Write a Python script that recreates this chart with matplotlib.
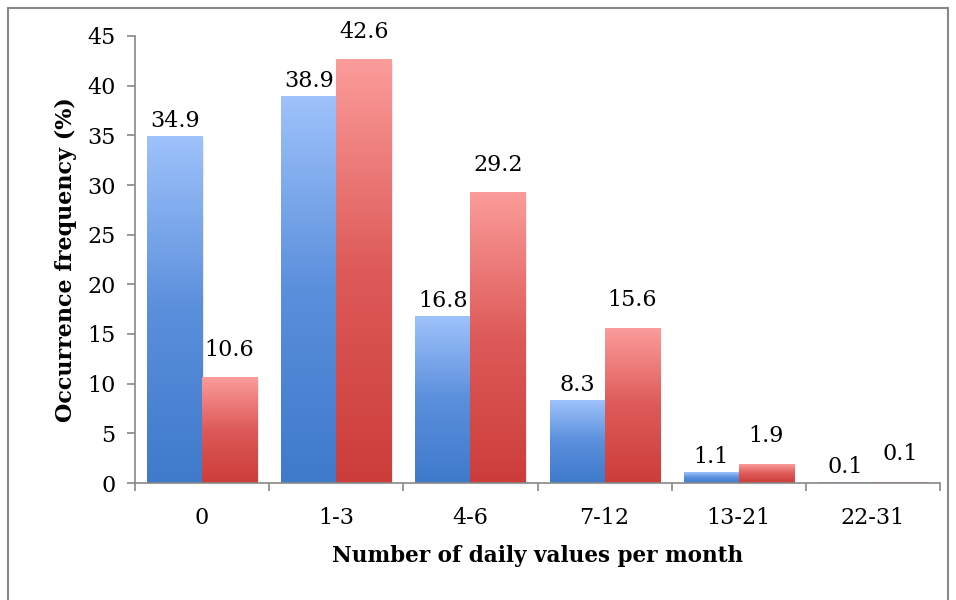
import matplotlib.pyplot as plt
import numpy as np
from matplotlib.colors import LinearSegmentedColormap
from matplotlib.patches import Rectangle

categories = ['0', '1-3', '4-6', '7-12', '13-21', '22-31']
blue_vals = [34.9, 38.9, 16.8, 8.3, 1.1, 0.1]
red_vals = [10.6, 42.6, 29.2, 15.6, 1.9, 0.1]

plt.rcParams['font.family'] = ['DejaVu Serif']

fig = plt.figure(figsize=(9.56, 6), dpi=100)
ax = fig.add_axes([135 / 956, 117 / 600, 805 / 956, 447 / 600])

x = np.arange(len(categories))
w = 0.41

blue_cmap = LinearSegmentedColormap.from_list('b', ['#3f7acb', '#5a8fdc', '#9ec2fb'])
red_cmap = LinearSegmentedColormap.from_list('r', ['#cc3d3a', '#dd5a58', '#fb9c9a'])
grad = np.linspace(0, 1, 256).reshape(-1, 1)

blue_bars = ax.bar(x - w / 2, blue_vals, w, color='none', edgecolor='none')
red_bars = ax.bar(x + w / 2, red_vals, w, color='none', edgecolor='none')

for bars, cmap in [(blue_bars, blue_cmap), (red_bars, red_cmap)]:
    for b in bars:
        bx, by = b.get_x(), b.get_y()
        bw, bh = b.get_width(), b.get_height()
        # soft shadow
        ax.add_patch(Rectangle((bx + 0.012, by - 0.25), bw, bh, color='#000000',
                               alpha=0.08, zorder=1, linewidth=0))
        ax.imshow(grad, cmap=cmap, origin='lower', aspect='auto',
                  extent=[bx, bx + bw, by, by + bh], zorder=2)

for i in range(len(categories)):
    ax.annotate(f'{blue_vals[i]}', (x[i] - w / 2, blue_vals[i]), xytext=(0, 3),
                textcoords='offset points', ha='center', va='bottom', fontsize=16)
    ax.annotate(f'{red_vals[i]}', (x[i] + w / 2, red_vals[i]), xytext=(0, 12),
                textcoords='offset points', ha='center', va='bottom', fontsize=16)

ax.set_xlim(-0.5, len(categories) - 0.5)
ax.set_ylim(0, 45)
ax.set_yticks(np.arange(0, 46, 5))
ax.set_xticks(x)
ax.set_xticklabels(categories)
ax.set_xticks(np.arange(-0.5, len(categories), 1), minor=True)
ax.tick_params(axis='x', which='major', length=0, pad=17, labelsize=16)
ax.tick_params(axis='x', which='minor', length=6, color='#888888', width=1.2)
ax.tick_params(axis='y', length=6, color='#888888', width=1.2, labelsize=16, pad=8)

for s in ['top', 'right']:
    ax.spines[s].set_visible(False)
for s in ['left', 'bottom']:
    ax.spines[s].set_color('#888888')
    ax.spines[s].set_linewidth(1.2)

ax.set_xlabel('Number of daily values per month', fontsize=15.5, fontweight='bold', labelpad=12)
ax.set_ylabel('Occurrence frequency (%)', fontsize=16, fontweight='bold', labelpad=7)

fig.patches.append(Rectangle((8 / 956, -0.1), 940 / 956, 1.1 - 8 / 600, transform=fig.transFigure,
                             fill=False, edgecolor='#888888', linewidth=1.5))

fig.savefig('out.png', dpi=100)
